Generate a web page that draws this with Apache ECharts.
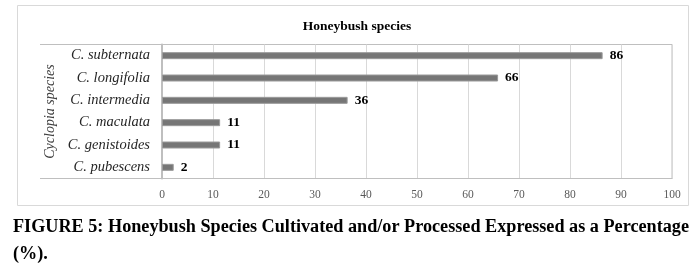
<!DOCTYPE html>
<html>
<head>
<meta charset="utf-8">
<script src="https://cdn.jsdelivr.net/npm/echarts@6/dist/echarts.min.js"></script>
<style>
  html, body { margin: 0; padding: 0; background: #fff; }
  #chart { width: 695px; height: 270px; }
</style>
</head>
<body>
<div id="chart"></div>
<script>
// Cyclopia species, top to bottom
const species = ['C. subternata', 'C. longifolia', 'C. intermedia', 'C. maculata', 'C. genistoides', 'C. pubescens']
// percentage of respondents (bar lengths)
const percent = [86.4, 65.9, 36.4, 11.4, 11.4, 2.3]
const xTicks = { min: 0, max: 100, step: 10 }

const serif = 'Liberation Serif'
const chart = echarts.init(document.getElementById('chart'))

chart.setOption({
  animation: false,
  title: [
    {
      text: 'Honeybush species',
      left: 352,
      top: 15,
      textAlign: 'center',
      textStyle: { fontFamily: serif, fontSize: 13.5, fontWeight: 'bold', color: '#000' }
    },
    {
      text: 'FIGURE 5: Honeybush Species Cultivated and/or Processed Expressed as a Percentage',
      left: 13,
      top: 218,
      padding: 0,
      textStyle: { fontFamily: serif, fontSize: 18.2, fontWeight: 'bold', color: '#000' }
    },
    {
      text: '(%).',
      left: 13,
      top: 245,
      padding: 0,
      textStyle: { fontFamily: serif, fontSize: 18.2, fontWeight: 'bold', color: '#000' }
    }
  ],
  graphic: [
    // outer chart frame
    { type: 'rect', shape: { x: 17.5, y: 5.5, width: 671, height: 200 },
      style: { fill: 'none', stroke: '#d9d9d9', lineWidth: 1 } },
    // excel-style lines running left under the labels
    { type: 'line', shape: { x1: 40, y1: 44.5, x2: 162, y2: 44.5 },
      style: { stroke: '#bfbfbf', lineWidth: 1 } },
    { type: 'line', shape: { x1: 40, y1: 178.5, x2: 162, y2: 178.5 },
      style: { stroke: '#bfbfbf', lineWidth: 1 } }
  ],
  grid: {
    left: 162,
    right: 23,
    top: 44.5,
    height: 134,
    show: true,
    borderColor: '#bfbfbf',
    borderWidth: 1
  },
  xAxis: {
    type: 'value',
    min: xTicks.min,
    max: xTicks.max,
    interval: xTicks.step,
    axisLine: { show: true, lineStyle: { color: '#bfbfbf' } },
    axisTick: { show: false },
    splitLine: { lineStyle: { color: '#d9d9d9' } },
    axisLabel: { fontFamily: serif, fontSize: 11.5, color: '#595959', margin: 10 }
  },
  yAxis: {
    type: 'category',
    data: species,
    inverse: true,
    name: 'Cyclopia species',
    nameLocation: 'middle',
    nameRotate: 90,
    nameGap: 104,
    nameTextStyle: { fontFamily: serif, fontSize: 14, fontStyle: 'italic', color: '#404040' },
    axisLine: { show: true, lineStyle: { color: '#bfbfbf', width: 2 } },
    axisTick: { show: false },
    axisLabel: { fontFamily: serif, fontSize: 14.5, fontStyle: 'italic', color: '#262626', margin: 12 }
  },
  series: [{
    type: 'bar',
    data: percent,
    barWidth: 7,
    itemStyle: { color: '#767676', borderColor: '#9a9a9a', borderWidth: 1 },
    label: {
      show: true,
      position: 'right',
      distance: 7,
      formatter: p => Math.round(p.value),
      fontFamily: serif,
      fontSize: 13.5,
      fontWeight: 'bold',
      color: '#000'
    }
  }]
})
</script>
</body>
</html>
